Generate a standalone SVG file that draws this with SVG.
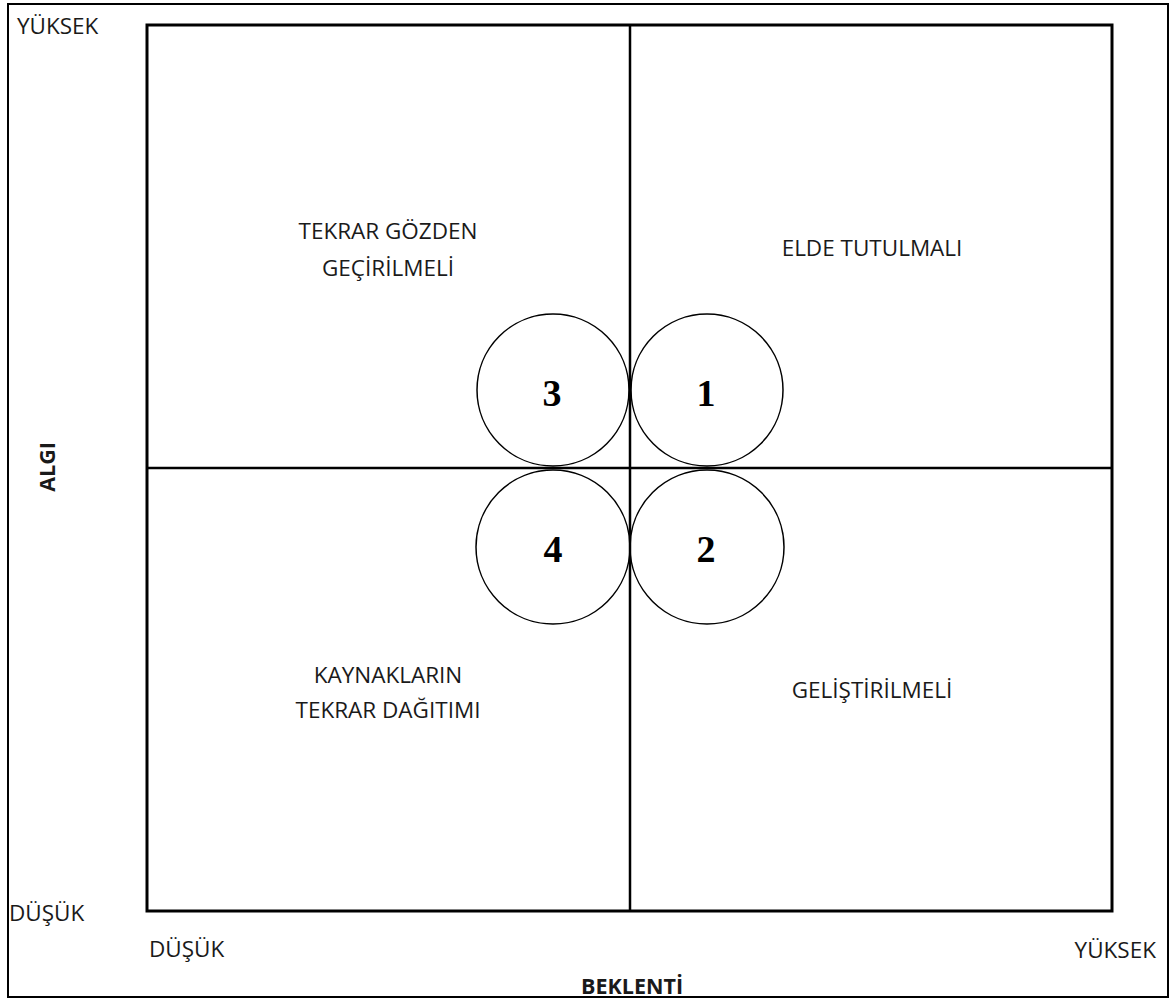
<svg xmlns="http://www.w3.org/2000/svg" width="1176" height="1001" viewBox="0 0 1176 1001">
<style>
.lbl{font-family:"Open Sans","Liberation Sans",sans-serif;font-size:22.5px;fill:#1a1a1a}
.b{font-weight:bold;font-size:21.5px}
.num{font-family:"Liberation Serif","Times New Roman",serif;font-size:38px;font-weight:bold;fill:#000;text-anchor:middle}
.c{fill:none;stroke:#000;stroke-width:1.5}
.mid{text-anchor:middle}
</style>
<rect x="0" y="0" width="1176" height="1001" fill="#fff"/>
<rect id="frame" x="8" y="4" width="1160" height="993" fill="none" stroke="#000" stroke-width="2"/>
<g id="grid" stroke="#000" fill="none">
<rect x="147" y="25" width="965" height="886" stroke-width="3"/>
<line x1="630" y1="25" x2="630" y2="911" stroke-width="2.5"/>
<line x1="147" y1="468" x2="1112" y2="468" stroke-width="2.5"/>
</g>
<g id="axis-labels">
<text class="lbl" x="17" y="34">YÜKSEK</text>
<text class="lbl" x="9" y="921">DÜŞÜK</text>
<text class="lbl" x="149" y="957">DÜŞÜK</text>
<text class="lbl" x="1156" y="958" text-anchor="end">YÜKSEK</text>
<text class="lbl b mid" x="632" y="994">BEKLENTİ</text>
<text class="lbl b mid" transform="translate(55,467) rotate(-90)">ALGI</text>
</g>
<g id="q-tl"><text class="lbl mid" x="388" y="239">TEKRAR GÖZDEN</text><text class="lbl mid" x="388" y="276">GEÇİRİLMELİ</text></g>
<g id="q-tr"><text class="lbl mid" x="872" y="256">ELDE TUTULMALI</text></g>
<g id="q-bl"><text class="lbl mid" x="388" y="683">KAYNAKLARIN</text><text class="lbl mid" x="388" y="718">TEKRAR DAĞITIMI</text></g>
<g id="q-br"><text class="lbl mid" x="872" y="698">GELİŞTİRİLMELİ</text></g>
<g id="n3"><circle class="c" cx="553" cy="390" r="76"/><text class="num" x="552" y="406">3</text></g>
<g id="n1"><circle class="c" cx="707" cy="390" r="76"/><text class="num" x="706" y="406">1</text></g>
<g id="n4"><circle class="c" cx="553" cy="547" r="77"/><text class="num" x="553" y="562">4</text></g>
<g id="n2"><circle class="c" cx="707" cy="547" r="77"/><text class="num" x="706" y="562">2</text></g>
</svg>
